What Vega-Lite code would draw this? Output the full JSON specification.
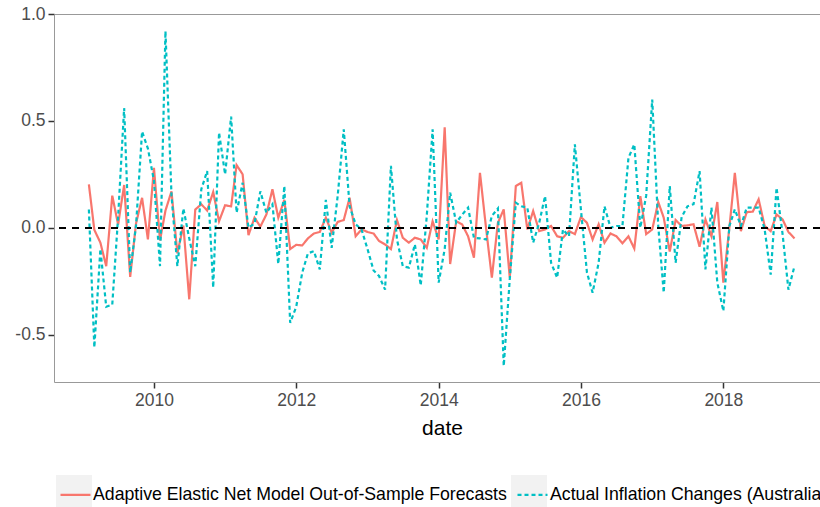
{
  "$schema": "https://vega.github.io/schema/vega-lite/v6.json",
  "autosize": {"type": "none"},
  "padding": {"left": 54, "top": 14, "right": 0, "bottom": 125},
  "width": 766,
  "height": 368,
  "background": "white",
  "config": {
    "view": {"stroke": null},
    "font": "Liberation Sans",
    "legend": {"padding": 0}
  },
  "data": {
    "values": [
      {"date": "2009-02-01", "forecast": 0.203, "actual": 0.085},
      {"date": "2009-03-01", "forecast": -0.01, "actual": -0.56},
      {"date": "2009-04-01", "forecast": -0.07, "actual": -0.10},
      {"date": "2009-05-01", "forecast": -0.18, "actual": -0.37},
      {"date": "2009-06-01", "forecast": 0.15, "actual": -0.36},
      {"date": "2009-07-01", "forecast": 0.015, "actual": 0.05},
      {"date": "2009-08-01", "forecast": 0.20, "actual": 0.56},
      {"date": "2009-09-01", "forecast": -0.23, "actual": -0.21},
      {"date": "2009-10-01", "forecast": 0.02, "actual": 0.01},
      {"date": "2009-11-01", "forecast": 0.14, "actual": 0.45},
      {"date": "2009-12-01", "forecast": -0.055, "actual": 0.37},
      {"date": "2010-01-01", "forecast": 0.28, "actual": 0.22},
      {"date": "2010-02-01", "forecast": -0.06, "actual": -0.18},
      {"date": "2010-03-01", "forecast": 0.08, "actual": 0.92},
      {"date": "2010-04-01", "forecast": 0.17, "actual": 0.15},
      {"date": "2010-05-01", "forecast": -0.12, "actual": -0.18},
      {"date": "2010-06-01", "forecast": 0.01, "actual": 0.09},
      {"date": "2010-07-01", "forecast": -0.335, "actual": -0.05},
      {"date": "2010-08-01", "forecast": 0.085, "actual": -0.18},
      {"date": "2010-09-01", "forecast": 0.11, "actual": 0.18},
      {"date": "2010-10-01", "forecast": 0.08, "actual": 0.265},
      {"date": "2010-11-01", "forecast": 0.167, "actual": -0.28},
      {"date": "2010-12-01", "forecast": 0.03, "actual": 0.445},
      {"date": "2011-01-01", "forecast": 0.105, "actual": 0.25},
      {"date": "2011-02-01", "forecast": 0.10, "actual": 0.52},
      {"date": "2011-03-01", "forecast": 0.293, "actual": 0.07},
      {"date": "2011-04-01", "forecast": 0.25, "actual": 0.21},
      {"date": "2011-05-01", "forecast": -0.035, "actual": 0.0},
      {"date": "2011-06-01", "forecast": 0.047, "actual": 0.02},
      {"date": "2011-07-01", "forecast": 0.005, "actual": 0.17},
      {"date": "2011-08-01", "forecast": 0.062, "actual": 0.07},
      {"date": "2011-09-01", "forecast": 0.18, "actual": 0.11},
      {"date": "2011-10-01", "forecast": 0.047, "actual": -0.17},
      {"date": "2011-11-01", "forecast": 0.13, "actual": 0.195},
      {"date": "2011-12-01", "forecast": -0.10, "actual": -0.445},
      {"date": "2012-01-01", "forecast": -0.08, "actual": -0.37},
      {"date": "2012-02-01", "forecast": -0.083, "actual": -0.21},
      {"date": "2012-03-01", "forecast": -0.05, "actual": -0.12},
      {"date": "2012-04-01", "forecast": -0.027, "actual": -0.11},
      {"date": "2012-05-01", "forecast": -0.02, "actual": -0.195},
      {"date": "2012-06-01", "forecast": 0.047, "actual": 0.13},
      {"date": "2012-07-01", "forecast": -0.023, "actual": -0.094},
      {"date": "2012-08-01", "forecast": 0.027, "actual": 0.15},
      {"date": "2012-09-01", "forecast": 0.036, "actual": 0.46},
      {"date": "2012-10-01", "forecast": 0.14, "actual": 0.10},
      {"date": "2012-11-01", "forecast": -0.04, "actual": 0.016},
      {"date": "2012-12-01", "forecast": -0.008, "actual": -0.008},
      {"date": "2013-01-01", "forecast": -0.02, "actual": -0.10},
      {"date": "2013-02-01", "forecast": -0.027, "actual": -0.20},
      {"date": "2013-03-01", "forecast": -0.062, "actual": -0.226},
      {"date": "2013-04-01", "forecast": -0.078, "actual": -0.29},
      {"date": "2013-05-01", "forecast": -0.10, "actual": 0.29},
      {"date": "2013-06-01", "forecast": 0.036, "actual": -0.055},
      {"date": "2013-07-01", "forecast": -0.047, "actual": -0.18},
      {"date": "2013-08-01", "forecast": -0.07, "actual": -0.187},
      {"date": "2013-09-01", "forecast": -0.047, "actual": -0.078},
      {"date": "2013-10-01", "forecast": -0.055, "actual": -0.27},
      {"date": "2013-11-01", "forecast": -0.094, "actual": 0.055},
      {"date": "2013-12-01", "forecast": 0.03, "actual": 0.46},
      {"date": "2014-01-01", "forecast": -0.055, "actual": -0.257},
      {"date": "2014-02-01", "forecast": 0.47, "actual": -0.10},
      {"date": "2014-03-01", "forecast": -0.17, "actual": 0.164},
      {"date": "2014-04-01", "forecast": 0.03, "actual": 0.023},
      {"date": "2014-05-01", "forecast": 0.016, "actual": 0.06},
      {"date": "2014-06-01", "forecast": -0.04, "actual": 0.094},
      {"date": "2014-07-01", "forecast": -0.14, "actual": -0.047},
      {"date": "2014-08-01", "forecast": 0.257, "actual": -0.05},
      {"date": "2014-09-01", "forecast": 0.0, "actual": -0.055},
      {"date": "2014-10-01", "forecast": -0.234, "actual": 0.055},
      {"date": "2014-11-01", "forecast": 0.023, "actual": 0.09},
      {"date": "2014-12-01", "forecast": 0.086, "actual": -0.647},
      {"date": "2015-01-01", "forecast": -0.234, "actual": -0.24},
      {"date": "2015-02-01", "forecast": 0.195, "actual": 0.117},
      {"date": "2015-03-01", "forecast": 0.21, "actual": 0.10},
      {"date": "2015-04-01", "forecast": -0.008, "actual": 0.094},
      {"date": "2015-05-01", "forecast": 0.078, "actual": -0.07},
      {"date": "2015-06-01", "forecast": -0.016, "actual": 0.023},
      {"date": "2015-07-01", "forecast": -0.008, "actual": 0.148},
      {"date": "2015-08-01", "forecast": 0.008, "actual": -0.164},
      {"date": "2015-09-01", "forecast": -0.04, "actual": -0.234},
      {"date": "2015-10-01", "forecast": -0.047, "actual": -0.008},
      {"date": "2015-11-01", "forecast": -0.016, "actual": -0.04},
      {"date": "2015-12-01", "forecast": -0.03, "actual": 0.39},
      {"date": "2016-01-01", "forecast": 0.05, "actual": 0.086},
      {"date": "2016-02-01", "forecast": 0.023, "actual": -0.21},
      {"date": "2016-03-01", "forecast": -0.055, "actual": -0.304},
      {"date": "2016-04-01", "forecast": 0.016, "actual": -0.164},
      {"date": "2016-05-01", "forecast": -0.07, "actual": 0.10},
      {"date": "2016-06-01", "forecast": -0.027, "actual": 0.0},
      {"date": "2016-07-01", "forecast": -0.04, "actual": 0.008},
      {"date": "2016-08-01", "forecast": -0.073, "actual": 0.008},
      {"date": "2016-09-01", "forecast": -0.04, "actual": 0.327},
      {"date": "2016-10-01", "forecast": -0.098, "actual": 0.39},
      {"date": "2016-11-01", "forecast": 0.148, "actual": 0.0},
      {"date": "2016-12-01", "forecast": -0.03, "actual": 0.15},
      {"date": "2017-01-01", "forecast": -0.008, "actual": 0.60},
      {"date": "2017-02-01", "forecast": 0.12, "actual": 0.008},
      {"date": "2017-03-01", "forecast": 0.047, "actual": -0.304},
      {"date": "2017-04-01", "forecast": -0.112, "actual": 0.195},
      {"date": "2017-05-01", "forecast": 0.036, "actual": -0.164},
      {"date": "2017-06-01", "forecast": 0.008, "actual": 0.05},
      {"date": "2017-07-01", "forecast": 0.011, "actual": 0.10},
      {"date": "2017-08-01", "forecast": 0.016, "actual": 0.11},
      {"date": "2017-09-01", "forecast": -0.089, "actual": 0.265},
      {"date": "2017-10-01", "forecast": 0.039, "actual": -0.195},
      {"date": "2017-11-01", "forecast": -0.04, "actual": 0.094},
      {"date": "2017-12-01", "forecast": 0.12, "actual": -0.257},
      {"date": "2018-01-01", "forecast": -0.257, "actual": -0.39},
      {"date": "2018-02-01", "forecast": 0.0, "actual": 0.008},
      {"date": "2018-03-01", "forecast": 0.257, "actual": 0.086},
      {"date": "2018-04-01", "forecast": -0.016, "actual": 0.008},
      {"date": "2018-05-01", "forecast": 0.073, "actual": 0.094},
      {"date": "2018-06-01", "forecast": 0.075, "actual": 0.094},
      {"date": "2018-07-01", "forecast": 0.133, "actual": 0.094},
      {"date": "2018-08-01", "forecast": 0.008, "actual": -0.008},
      {"date": "2018-09-01", "forecast": -0.016, "actual": -0.22},
      {"date": "2018-10-01", "forecast": 0.062, "actual": 0.187},
      {"date": "2018-11-01", "forecast": 0.039, "actual": -0.03},
      {"date": "2018-12-01", "forecast": -0.02, "actual": -0.29},
      {"date": "2019-01-01", "forecast": -0.05, "actual": -0.18}
    ]
  },
  "transform": [{"fold": ["forecast", "actual"], "as": ["key", "value"]}],
  "encoding": {
    "x": {
      "field": "date",
      "type": "temporal",
      "scale": {"domain": ["2008-08-06", "2019-05-12"]},
      "axis": {
        "values": ["2010-01-01", "2012-01-01", "2014-01-01", "2016-01-01", "2018-01-01"],
        "format": "%Y",
        "title": "date",
        "grid": false,
        "labelFontSize": 17.5,
        "labelColor": "#4D4D4D",
        "labelPadding": 3,
        "tickColor": "#333333",
        "tickWidth": 1.5,
        "tickSize": 6,
        "domainColor": "#999999",
        "domainWidth": 1,
        "titleFontSize": 21,
        "titleFontWeight": "normal",
        "titleColor": "black",
        "titlePadding": 9,
        "titleX": 388
      }
    },
    "y": {
      "field": "value",
      "type": "quantitative",
      "scale": {"domain": [-0.722, 1.0], "nice": false, "zero": false},
      "axis": {
        "title": null,
        "values": [-0.5, 0, 0.5, 1],
        "labelExpr": "datum.value < 0 ? '-' + format(-datum.value, '.1f') : format(datum.value, '.1f')",
        "labelFontSize": 17.5,
        "labelColor": "#4D4D4D",
        "labelPadding": 3,
        "tickColor": "#333333",
        "tickWidth": 1.5,
        "tickSize": 6,
        "domainColor": "#999999",
        "domainWidth": 1,
        "grid": true,
        "gridColor": "#999999",
        "gridWidth": 1,
        "gridOpacity": {"condition": {"test": "datum.value === 1", "value": 1}, "value": 0}
      }
    }
  },
  "layer": [
    {
      "mark": {"type": "point", "filled": true, "size": 0, "opacity": 1, "color": "#F2F2F2", "strokeWidth": 0},
      "encoding": {
        "shape": {
          "field": "key",
          "type": "nominal",
          "scale": {"range": ["square", "square"]},
          "sort": "descending",
          "legend": {
            "title": null,
            "orient": "none",
            "direction": "horizontal",
            "columns": 2,
            "legendX": 2,
            "legendY": 461,
            "symbolSize": 1296,
            "symbolType": "square",
            "symbolFillColor": "#F2F2F2",
            "symbolStrokeWidth": 0,
            "symbolOpacity": 1,
            "labelOffset": 0,
            "columnPadding": 419,
            "labelFontSize": 1,
            "labelLimit": 2000,
            "zindex": 0,
            "labelExpr": "''"
          }
        }
      }
    },
    {
      "mark": {"type": "line", "strokeWidth": 2.2},
      "encoding": {
        "color": {
          "field": "key",
          "type": "nominal",
          "scale": {"domain": ["forecast", "actual"], "range": ["#F8766D", "#00BFC4"]},
          "legend": {
            "title": null,
            "orient": "none",
            "direction": "horizontal",
            "columns": 2,
            "legendX": 5,
            "legendY": 464,
            "symbolType": "stroke",
            "symbolSize": 900,
            "symbolStrokeWidth": 2.2,
            "labelOffset": 1,
            "columnPadding": 6,
            "labelFontSize": 17.7,
            "labelColor": "black",
            "labelLimit": 2000,
            "zindex": 1,
            "labelExpr": "datum.value == 'forecast' ? 'Adaptive Elastic Net Model Out-of-Sample Forecasts' : 'Actual Inflation Changes (Australia)'"
          }
        },
        "strokeDash": {
          "field": "key",
          "type": "nominal",
          "scale": {"domain": ["forecast", "actual"], "range": [[1, 0], [4, 3]]},
          "legend": {
            "title": null,
            "orient": "none",
            "direction": "horizontal",
            "columns": 2,
            "legendX": 5,
            "legendY": 464,
            "symbolType": "stroke",
            "symbolSize": 900,
            "symbolStrokeWidth": 2.2,
            "labelOffset": 1,
            "columnPadding": 6,
            "labelFontSize": 17.7,
            "labelColor": "black",
            "labelLimit": 2000,
            "zindex": 1,
            "labelExpr": "datum.value == 'forecast' ? 'Adaptive Elastic Net Model Out-of-Sample Forecasts' : 'Actual Inflation Changes (Australia)'"
          }
        }
      }
    },
    {
      "mark": {"type": "rule", "color": "black", "strokeWidth": 0.9, "strokeDash": [7, 6]},
      "encoding": {"y": {"datum": 0}, "x": null}
    }
  ]
}
